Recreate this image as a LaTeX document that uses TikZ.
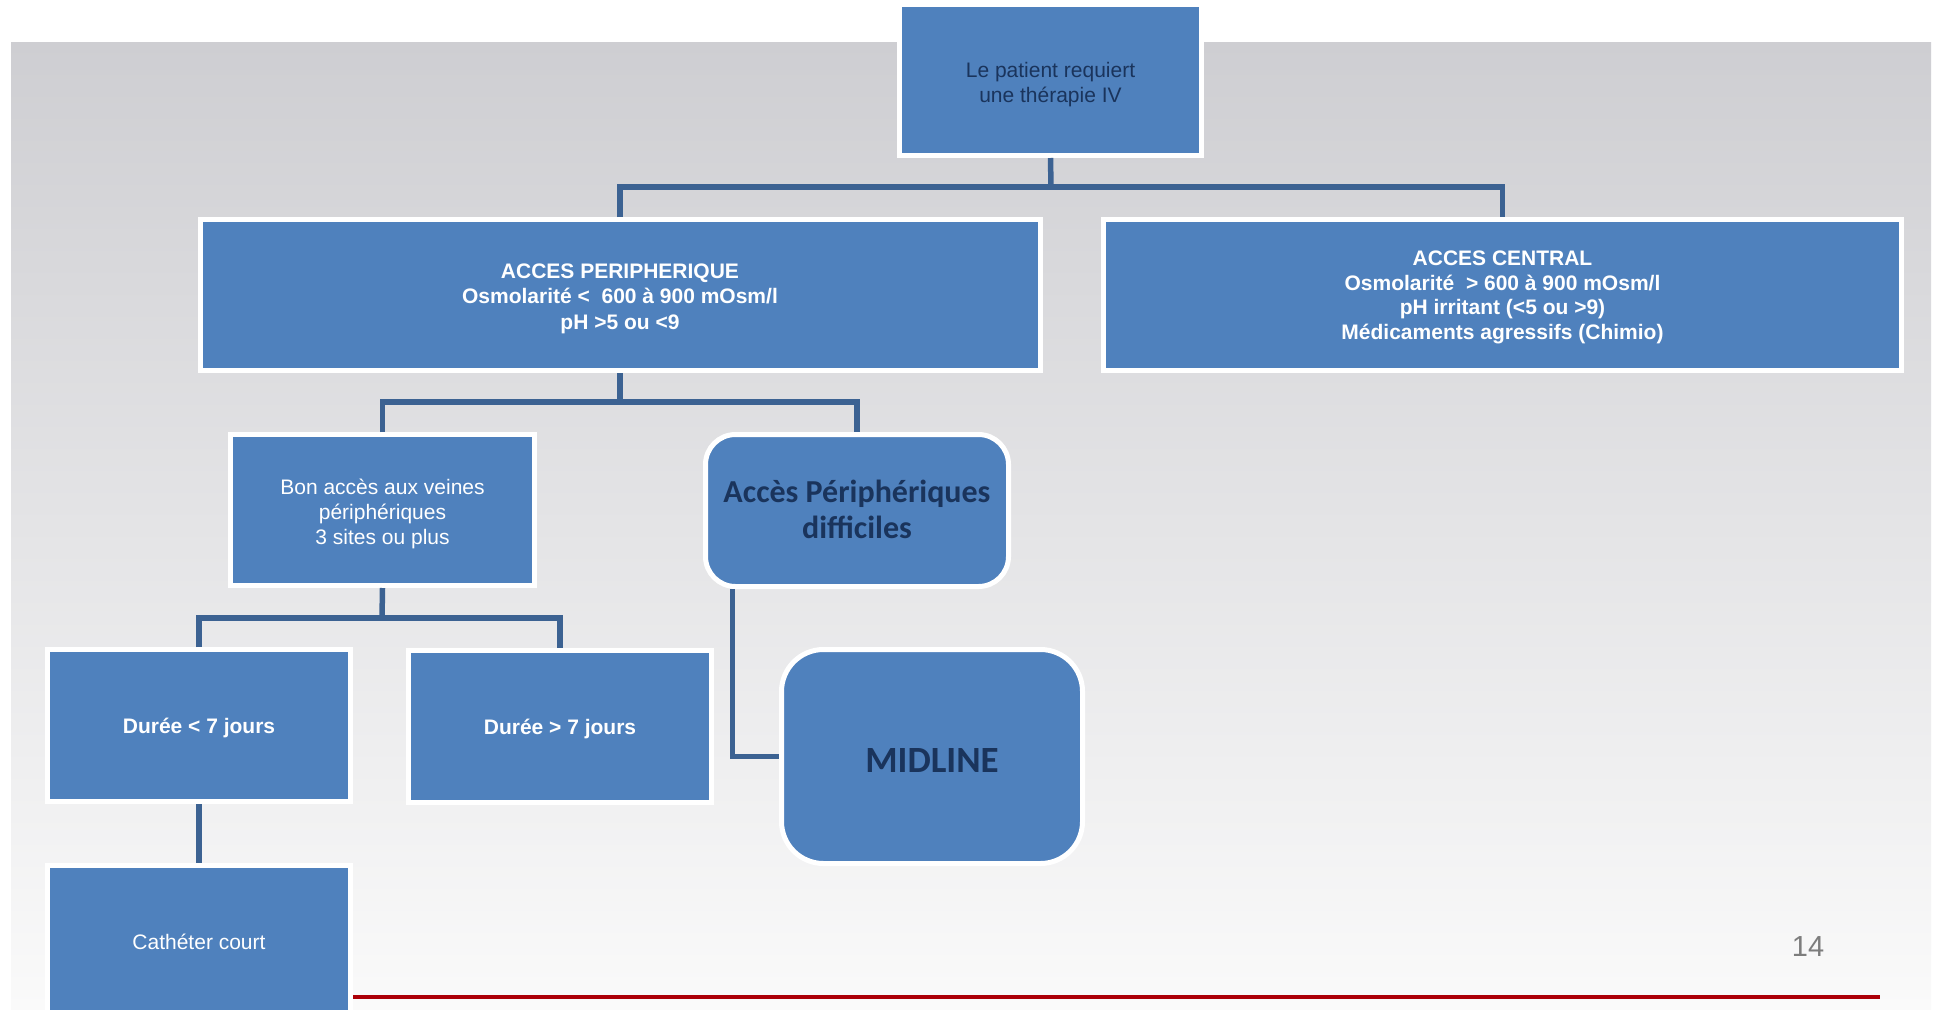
\documentclass[tikz,border=0pt]{standalone}
\usepackage{fontspec}
\setmainfont{Liberation Sans}
\newfontfamily\calibri{Carlito}
\definecolor{boxblue}{RGB}{79,129,189}
\definecolor{connblue}{RGB}{60,98,146}
\definecolor{navy}{RGB}{26,52,92}
\definecolor{bgtop}{RGB}{206,206,210}
\definecolor{bgbot}{RGB}{250,250,250}
\definecolor{redline}{RGB}{172,0,8}
\definecolor{pagenum}{RGB}{125,125,125}
\tikzset{
  box/.style={rectangle, draw=white, line width=5pt, fill=boxblue, inner sep=0pt},
  rbox/.style={box, rounded corners=30pt},
  lbl/.style={text=white, align=center, inner sep=0pt, font=\fontsize{21}{25}\selectfont},
  blbl/.style={lbl, font=\bfseries\fontsize{21}{25}\selectfont},
  conn/.style={draw=connblue, line width=5.5pt},
}
\begin{document}
\begin{tikzpicture}[x=1pt,y=-1pt]
\useasboundingbox (0,0) rectangle (1934,1009);
\clip (0,0) rectangle (1934,1009);
\fill[white] (0,0) rectangle (1934,1009);
\shade[top color=bgtop, bottom color=bgbot] (11,42) rectangle (1931,1009);

% boxes
\node[box, minimum width=302pt, minimum height=151pt] (top) at (1050.5,80) {};
\node[box, minimum width=840pt, minimum height=151pt] (periph) at (620,295) {};
\node[box, minimum width=798pt, minimum height=151pt] (central) at (1502.5,295) {};
\node[box, minimum width=304pt, minimum height=151pt] (bon) at (382.5,510) {};
\node[rbox, minimum width=303pt, minimum height=152pt] (diff) at (857,510.5) {};
\node[box, minimum width=302.5pt, minimum height=152pt] (d1) at (199,725.5) {};
\node[box, minimum width=303pt, minimum height=152pt] (d2) at (560,726.5) {};
\node[box, rounded corners=42pt, minimum width=301pt, minimum height=214pt] (mid) at (932,756.5) {};
\node[box, minimum width=302.5pt, minimum height=152pt] (cath) at (199,941.5) {};

% texts
\node[lbl, text=navy] (topT) at ([yshift=-4.5pt]top.center)
  {Le patient requiert\\ une thérapie IV};
\node[blbl, font=\bfseries\fontsize{21}{25.5}\selectfont] (periphT) at ([yshift=-3.5pt]periph.center)
  {ACCES PERIPHERIQUE\\Osmolarité <~ 600 à 900 mOsm/l\\pH >5 ou <9};
\node[blbl, font=\bfseries\fontsize{21}{24.7}\selectfont] (centralT) at ([yshift=-2.5pt]central.center)
  {ACCES CENTRAL\\Osmolarité ~> 600 à 900 mOsm/l\\pH irritant (<5 ou >9)\\Médicaments agressifs (Chimio)};
\node[lbl] (bonT) at ([yshift=-3.5pt]bon.center)
  {Bon accès aux veines\\périphériques\\3 sites ou plus};
\node[lbl, text=navy, font=\calibri\bfseries\fontsize{32}{36}\selectfont] (diffT) at ([yshift=1pt]diff.center)
  {Accès Périphériques\\difficiles};
\node[blbl] (d1T) at ([yshift=-2.5pt]d1.center) {Durée < 7 jours};
\node[blbl] (d2T) at ([yshift=-2.5pt]d2.center) {Durée > 7 jours};
\node[lbl, text=navy, font=\calibri\bfseries\fontsize{37}{42}\selectfont] (midT) at ([yshift=-3.5pt]mid.center) {MIDLINE};
\node[lbl] (cathT) at (cath.center) {Cathéter court};

% connectors
\coordinate (b1) at (1051,187);
\coordinate (b2) at (620,402);
\coordinate (b3) at (382,618);
\draw[conn] (top.south) -- (b1);
\draw[conn] (periph.north) |- (b1) -| (central.north);
\draw[conn] (periph.south) -- (b2);
\draw[conn] (bon.north) |- (b2) -| (diff.north);
\draw[conn] (bon.south) -- (b3);
\draw[conn] (d1.north) |- (b3) -| (d2.north);
\draw[conn] (d1.south) -- (cath.north);
\draw[conn] ([xshift=29.5pt]diff.south west) |- (mid.west);

% footer
\coordinate (r1) at (353,997);
\coordinate (r2) at (1880,997);
\draw[redline, line width=3.5pt] (r1) -- (r2);
\node[text=pagenum, font=\fontsize{29}{30}\selectfont, inner sep=0pt] (pg) at (1808,946.5) {14};
\end{tikzpicture}
\end{document}
